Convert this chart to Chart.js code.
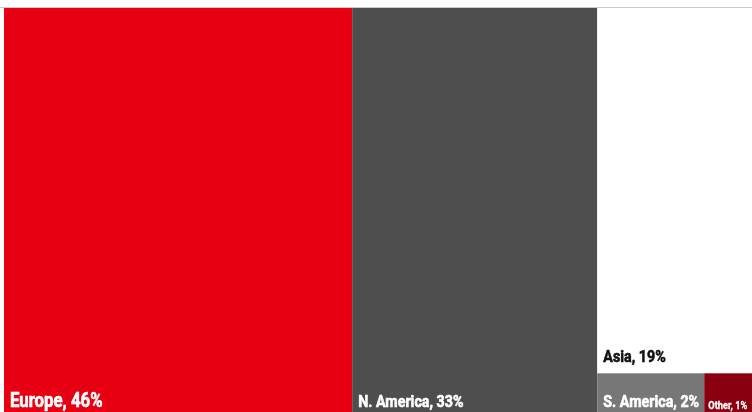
<!DOCTYPE html>
<html>
<head>
<meta charset="utf-8">
<script src="https://cdn.jsdelivr.net/npm/chart.js@4.4.1/dist/chart.umd.min.js"></script>
<style>
  html, body { margin: 0; padding: 0; background: #fff; }
  body { width: 752px; height: 412px; overflow: hidden; position: relative; }
  #topline { position: absolute; left: 0; top: 7px; width: 752px; height: 1px; background: #cbcbcb; }
  #holder { position: absolute; left: 4px; top: 8px; width: 752px; height: 410px; }
</style>
</head>
<body>
<div id="topline"></div>
<div id="holder"><canvas id="mapa" width="752" height="410"></canvas></div>
<script>
  // datos del treemap (cuota en %)
  const regiones = ["Europe", "N. America", "Asia", "S. America", "Other"];
  const cuotas = [46.3, 32.6, 18.8, 1.55, 0.75];
  const etiquetas = ["Europe, 46%", "N. America, 33%", "Asia, 19%", "S. America, 2%", "Other, 1%"];
  const colores = ["#e60012", "#4e4e4e", "#ffffff", "#777777", "#8a0010"];

  // squarified layout en unidades de datos (0..100 en x e y)
  // k = ancho fisico / alto fisico del area
  function squarify(values, k) {
    const sesgo = 1.05; // preferir columnas cuando el hueco es casi cuadrado
    const rects = [];
    let box = { x0: 0, y0: 0, x1: 100, y1: 100 };
    let rest = values.map((v, i) => ({ v, i }));
    let restTotal = values.reduce((a, b) => a + b, 0);

    function enColumna(box) {
      return (box.x1 - box.x0) * k * sesgo >= (box.y1 - box.y0);
    }

    function worst(row, box, total) {
      const w = (box.x1 - box.x0) * k, h = box.y1 - box.y0;
      const sum = row.reduce((a, r) => a + r.v, 0);
      const vertical = enColumna(box);
      const side = vertical ? h : w;
      const thick = (sum / total) * (vertical ? w : h);
      let m = 0;
      row.forEach(r => {
        const len = (r.v / sum) * side;
        m = Math.max(m, Math.max(len / thick, thick / len));
      });
      return m;
    }

    while (rest.length) {
      let row = [rest[0]];
      let n = 1;
      while (n < rest.length) {
        const next = row.concat([rest[n]]);
        if (worst(next, box, restTotal) <= worst(row, box, restTotal)) {
          row = next;
          n++;
        } else break;
      }
      const sum = row.reduce((a, r) => a + r.v, 0);
      if (enColumna(box)) {
        const xEnd = box.x0 + (sum / restTotal) * (box.x1 - box.x0);
        let y = box.y0;
        row.forEach(r => {
          const y2 = y + (r.v / sum) * (box.y1 - box.y0);
          rects[r.i] = { x0: box.x0, x1: xEnd, y0: y, y1: y2 };
          y = y2;
        });
        box = { x0: xEnd, y0: box.y0, x1: box.x1, y1: box.y1 };
      } else {
        const yEnd = box.y0 + (sum / restTotal) * (box.y1 - box.y0);
        let x = box.x0;
        row.forEach(r => {
          const x2 = x + (r.v / sum) * (box.x1 - box.x0);
          rects[r.i] = { x0: x, x1: x2, y0: box.y0, y1: yEnd };
          x = x2;
        });
        box = { x0: box.x0, y0: yEnd, x1: box.x1, y1: box.y1 };
      }
      rest = rest.slice(n);
      restTotal -= sum;
    }
    return rects;
  }

  function esClaro(hex) {
    const n = parseInt(hex.slice(1), 16);
    const r = n >> 16, g = (n >> 8) & 255, b = n & 255;
    return (0.299 * r + 0.587 * g + 0.114 * b) > 160;
  }

  const treemapPlugin = {
    id: "treemap",
    afterDraw(chart) {
      const { ctx, chartArea, scales: { x, y } } = chart;
      const k = (chartArea.right - chartArea.left) / (chartArea.bottom - chartArea.top);
      const rects = squarify(cuotas, k);

      rects.forEach((r, i) => {
        const left = x.getPixelForValue(r.x0);
        const right = x.getPixelForValue(r.x1);
        const top = y.getPixelForValue(r.y0);
        const bottom = y.getPixelForValue(r.y1);
        const w = right - left;

        ctx.save();
        ctx.fillStyle = colores[i];
        ctx.fillRect(left, top, w, bottom - top);

        const size = w > 300 ? 20 : (w > 80 ? 17 : 11);
        const padX = size > 12 ? 6 : 4;
        const padY = size > 12 ? 11 : 9;
        ctx.beginPath();
        ctx.rect(left, top, w, bottom - top);
        ctx.clip();
        const tinta = esClaro(colores[i]) ? "#111111" : "#ffffff";
        ctx.fillStyle = tinta;
        ctx.strokeStyle = tinta;
        ctx.lineWidth = size > 12 ? 0.6 : 0.3;
        ctx.font = "bold " + size + "px Roboto";
        ctx.textBaseline = "alphabetic";
        ctx.translate(left + padX, bottom - padY);
        ctx.scale(0.84, 1);
        ctx.fillText(etiquetas[i], 0, 0);
        ctx.strokeText(etiquetas[i], 0, 0);
        ctx.restore();
      });
    }
  };

  new Chart(document.getElementById("mapa").getContext("2d"), {
    type: "scatter",
    data: {
      labels: regiones,
      datasets: [{ label: "cuota", data: [], pointRadius: 0 }]
    },
    options: {
      responsive: false,
      animation: false,
      layout: { padding: 0 },
      scales: {
        x: { type: "linear", min: 0, max: 100, display: false },
        y: { type: "linear", min: 0, max: 100, reverse: true, display: false }
      },
      plugins: {
        legend: { display: false },
        tooltip: { enabled: false }
      }
    },
    plugins: [treemapPlugin]
  });
</script>
</body>
</html>
